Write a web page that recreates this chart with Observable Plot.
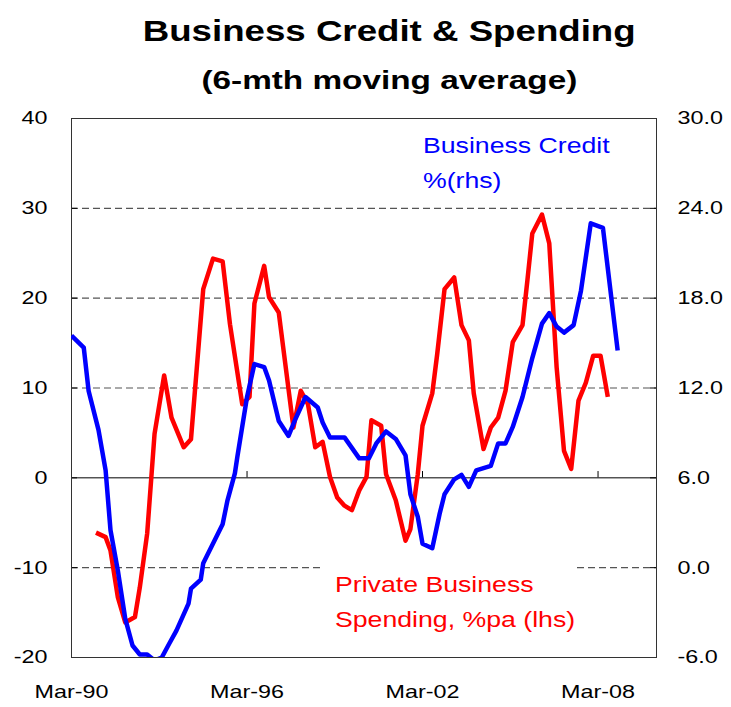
<!DOCTYPE html>
<html>
<head>
<meta charset="utf-8">
<script src="https://cdn.jsdelivr.net/npm/d3@7"></script>
<script src="https://cdn.jsdelivr.net/npm/@observablehq/plot@0.6"></script>
<style>
  html, body { margin: 0; padding: 0; background: #fff; }
  #wrap { position: relative; width: 731px; height: 707px; overflow: hidden; font-family: "Liberation Sans", Arial, sans-serif; color: #000; }
  #chart svg { display: block; }
  .ttl { position: absolute; left: 0; width: 778px; text-align: center; font-weight: bold; white-space: nowrap; }
  .ttl span { display: inline-block; transform: scaleX(1.25); transform-origin: center; }
  .lbl { position: absolute; white-space: nowrap; font-size: 21.33px; line-height: 35px; transform: scaleX(1.25); transform-origin: left top; }
  #redbox { position: absolute; left: 323px; top: 558px; width: 254px; height: 88px; background: #fff; }
</style>
</head>
<body>
<div id="wrap">
  <div id="chart"></div>
  <div class="ttl" style="top:13px;font-size:29.33px;line-height:36px;"><span id="title"></span></div>
  <div class="ttl" style="top:64px;font-size:26.67px;line-height:32px;"><span id="subtitle"></span></div>
  <div class="lbl" id="blueLbl" style="left:423px;top:128.6px;color:#0000ff;"></div>
  <div id="redbox"><div class="lbl" id="redLbl" style="left:12px;top:10.4px;color:#ff0000;"></div></div>
</div>
<script>
// ---- Data ----
const titleText = "Business Credit & Spending";
const subtitleText = "(6-mth moving average)";
const creditLabel = ["Business Credit", "%(rhs)"];
const spendLabel = ["Private Business", "Spending, %pa (lhs)"];

// Business credit growth, % (right-hand axis)
const creditDates = ["1990-03","1990-08","1990-10","1991-02","1991-05","1991-07","1991-10","1992-01","1992-04","1992-07","1992-10","1993-01","1993-04","1993-07","1993-10","1994-03","1994-04","1994-08","1994-09","1995-05","1995-07","1995-10","1995-11","1996-03","1996-06","1996-10","1996-12","1997-04","1997-08","1997-11","1998-03","1998-08","1998-10","1999-01","1999-07","1999-10","2000-01","2000-05","2000-08","2000-12","2001-04","2001-08","2001-10","2002-01","2002-03","2002-07","2002-10","2002-12","2003-04","2003-07","2003-10","2004-01","2004-07","2004-10","2005-01","2005-04","2005-08","2005-12","2006-04","2006-07","2006-10","2007-01","2007-05","2007-08","2007-12","2008-05","2008-11"];
const creditRhs = [15.5,14.7,11.8,9.2,6.5,2.5,-0.2,-3.4,-5.2,-5.8,-5.8,-6.2,-6.0,-5.1,-4.2,-2.4,-1.4,-0.8,0.3,2.9,4.5,6.3,7.4,11.4,13.6,13.4,12.5,9.8,8.8,10.0,11.4,10.7,9.7,8.7,8.7,8.0,7.3,7.3,8.3,9.1,8.6,7.5,4.9,3.4,1.6,1.3,3.6,4.9,5.9,6.2,5.4,6.5,6.8,8.3,8.3,9.4,11.4,14.0,16.3,17.0,16.1,15.7,16.2,18.5,23.0,22.7,14.5];

// Private business spending, % pa (left-hand axis)
const spendDates = ["1991-01","1991-05","1991-07","1991-10","1992-01","1992-05","1992-07","1992-10","1993-01","1993-05","1993-08","1994-01","1994-04","1994-09","1995-01","1995-05","1995-08","1996-01","1996-04","1996-06","1996-10","1996-12","1997-04","1997-10","1998-01","1998-04","1998-07","1998-10","1999-01","1999-04","1999-07","1999-10","2000-01","2000-04","2000-06","2000-10","2000-12","2001-04","2001-08","2001-10","2002-01","2002-03","2002-07","2002-09","2002-12","2003-04","2003-07","2003-10","2003-12","2004-04","2004-07","2004-10","2005-01","2005-04","2005-08","2005-10","2005-12","2006-04","2006-07","2006-10","2007-01","2007-04","2007-07","2007-10","2008-01","2008-04","2008-07"];
const spendLhs = [-6.1,-6.6,-8.1,-13.3,-16.1,-15.5,-12.2,-6.2,4.9,11.4,6.7,3.4,4.3,21.0,24.4,24.1,17.1,8.2,9.0,19.4,23.6,20.1,18.4,5.6,9.7,8.2,3.4,4.0,0.1,-2.2,-3.1,-3.6,-1.4,0.1,6.4,5.8,0.4,-2.5,-7.0,-5.7,0.4,5.8,9.4,13.8,21.0,22.3,17.0,15.3,9.4,3.2,5.6,6.7,9.7,15.1,17.0,22.0,27.2,29.3,26.1,12.3,3.0,1.0,8.6,10.6,13.6,13.6,9.0];

// Axes
const leftTicks = [-20, -10, 0, 10, 20, 30, 40];
const rightTickLabels = ["-6.0", "0.0", "6.0", "12.0", "18.0", "24.0", "30.0"];
const rightDomain = [-6, 30];
const leftDomain = [-20, 40];
const gridValues = [-10, 10, 20, 30];
const xTickDates = ["1990-03", "1996-03", "2002-03", "2008-03"];
const xTickLabels = ["Mar-90", "Mar-96", "Mar-02", "Mar-08"];
const xDomain = ["1990-03", "2010-03"];

// ---- Build ----
const STRETCH = 1.25;
const parse = d3.utcParse("%Y-%m");
// map right-hand-axis values onto the left-hand scale
const rhsToLhs = d3.scaleLinear().domain(rightDomain).range(leftDomain);
const credit = creditDates.map((d, i) => ({date: parse(d), v: rhsToLhs(creditRhs[i])}));
const spend = spendDates.map((d, i) => ({date: parse(d), v: spendLhs[i]}));
const xTicks = xTickDates.map(parse);

const W = 731, H = 707, mL = 71, mR = 75, mT = 118, mB = 50;
const innerW = W - mL - mR;

const chart = Plot.plot({
  width: W, height: H,
  marginTop: mT, marginBottom: mB, marginLeft: mL, marginRight: mR,
  style: {fontFamily: "'Liberation Sans', Arial, sans-serif", fontSize: "18.67px", color: "#000", background: "#fff", overflow: "visible"},
  x: {type: "utc", domain: xDomain.map(parse), label: null},
  y: {domain: leftDomain, label: null},
  marks: [
    Plot.ruleY(gridValues, {stroke: "#555", strokeWidth: 1.2, strokeDasharray: "7,4"}),
    Plot.ruleY([0], {stroke: "#000", strokeWidth: 1}),
    Plot.ruleX(xTicks, {y1: 0, y2: 0.7, stroke: "#000", strokeWidth: 1}),
    Plot.tickY(leftTicks, {y: d => d, insetRight: innerW - 6, stroke: "#000"}),
    Plot.tickY(leftTicks, {y: d => d, insetLeft: innerW - 6, stroke: "#000"}),
    Plot.frame({stroke: "#333", strokeWidth: 1}),
    Plot.axisY(leftTicks, {anchor: "left", label: null, tickSize: 0, tickPadding: 24, tickFormat: d => String(d)}),
    Plot.axisY(leftTicks, {anchor: "right", label: null, tickSize: 0, tickPadding: 21, tickFormat: d => rightTickLabels[leftTicks.indexOf(d)]}),
    Plot.axisX(xTicks, {anchor: "bottom", label: null, tickSize: 0, tickPadding: 27, tickFormat: d => xTickLabels[xTicks.findIndex(t => +t === +d)]}),
    Plot.line(spend, {x: "date", y: "v", stroke: "#ff0000", strokeWidth: 4.5, strokeLinejoin: "round", strokeLinecap: "butt", clip: true}),
    Plot.line(credit, {x: "date", y: "v", stroke: "#0000ff", strokeWidth: 4.5, strokeLinejoin: "round", strokeLinecap: "butt", clip: true})
  ]
});

document.getElementById("chart").appendChild(chart);

// widen tick labels horizontally (the reference text is horizontally stretched)
chart.querySelectorAll('g[aria-label$="tick label"] text').forEach(t => {
  const w = t.getComputedTextLength();
  if (w > 0) {
    t.setAttribute("textLength", (w * STRETCH).toFixed(2));
    t.setAttribute("lengthAdjust", "spacingAndGlyphs");
  }
});

document.getElementById("title").textContent = titleText;
document.getElementById("subtitle").textContent = subtitleText;
document.getElementById("blueLbl").innerHTML = creditLabel.join("<br>");
document.getElementById("redLbl").innerHTML = spendLabel.join("<br>");
</script>
</body>
</html>
